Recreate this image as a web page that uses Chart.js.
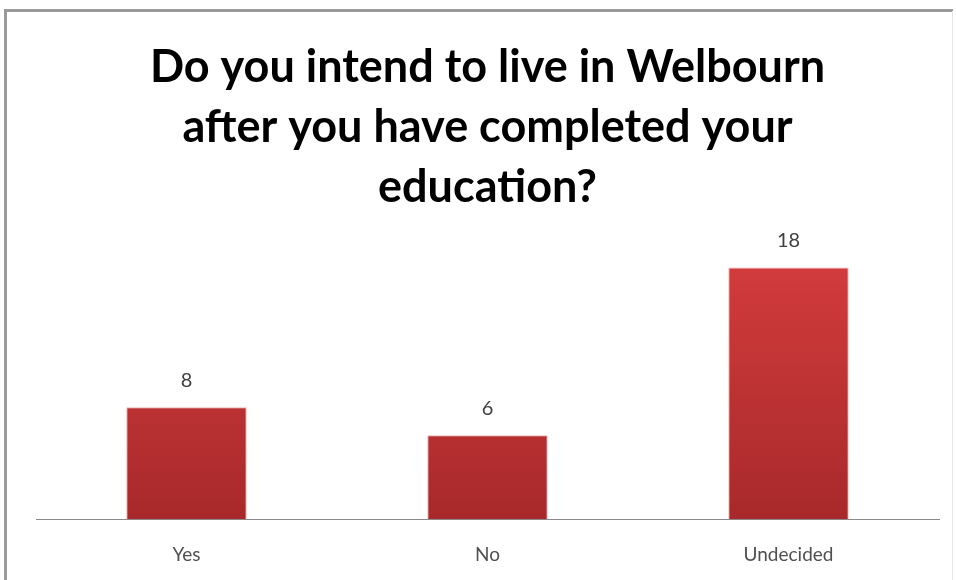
<!DOCTYPE html>
<html>
<head>
<meta charset="utf-8">
<script src="https://cdn.jsdelivr.net/npm/chart.js@4/dist/chart.umd.min.js"></script>
<style>
  html, body { margin: 0; padding: 0; background: #fff; }
  #wrap { width: 956px; height: 580px; }
</style>
</head>
<body>
<div id="wrap"><canvas id="bar-chart" width="956" height="580"></canvas></div>
<script>
// data
var categories = ["Yes", "No", "Undecided"];
var answers = [8, 6, 18];
var chartTitle = ["Do you intend to live in Welbourn", "after you have completed your", "education?"];

// frame round the chart (left + top edge like the original picture)
var framePlugin = {
    id: 'frame',
    beforeDraw: function (chart) {
        var ctx = chart.ctx;
        ctx.save();
        ctx.fillStyle = '#ffffff';
        ctx.fillRect(0, 0, chart.width, chart.height);
        ctx.strokeStyle = '#9a9a9a';
        ctx.lineWidth = 3;
        ctx.beginPath();
        ctx.moveTo(5.5, chart.height);
        ctx.lineTo(5.5, 10.5);
        ctx.lineTo(chart.width - 3, 10.5);
        ctx.stroke();
        ctx.strokeStyle = '#e6e6e6';
        ctx.lineWidth = 1;
        ctx.beginPath();
        ctx.moveTo(chart.width - 3.5, 11);
        ctx.lineTo(chart.width - 3.5, chart.height);
        ctx.stroke();
        ctx.restore();
    }
};

// value labels above each bar
var valuePlugin = {
    id: 'values',
    afterDatasetsDraw: function (chart) {
        var ctx = chart.ctx;
        var meta = chart.getDatasetMeta(0);
        ctx.save();
        ctx.font = '20px Lato, "Open Sans", sans-serif';
        ctx.fillStyle = '#404040';
        ctx.textAlign = 'center';
        ctx.textBaseline = 'middle';
        meta.data.forEach(function (bar, i) {
            ctx.fillText(String(answers[i]), bar.x, bar.y - 27);
        });
        ctx.restore();
    }
};

function barFill(context) {
    var chart = context.chart;
    var area = chart.chartArea;
    if (!area) return '#c0393a';
    var el = context.element;
    var top = el && el.y !== undefined ? el.y : area.top;
    var g = chart.ctx.createLinearGradient(0, top, 0, area.bottom);
    g.addColorStop(0, '#d63d3e');
    g.addColorStop(1, '#a8292b');
    return g;
}

var bar_chart_config = {
    type: 'bar',
    data: {
        labels: categories,
        datasets: [{
            label: 'Answers',
            data: answers,
            backgroundColor: barFill,
            borderColor: 'rgba(235,120,120,0.6)',
            borderWidth: 1,
            barPercentage: 0.4,
            categoryPercentage: 1.0
        }]
    },
    options: {
        responsive: false,
        animation: false,
        layout: {
            padding: { left: 36, right: 17, top: 0, bottom: -10 }
        },
        plugins: {
            legend: { display: false },
            tooltip: { enabled: false },
            title: {
                display: true,
                text: chartTitle,
                color: '#000000',
                font: { family: 'Lato', size: 45, weight: 'bold', lineHeight: 1.33 },
                padding: { top: 38, bottom: 22 }
            }
        },
        scales: {
            x: {
                grid: { display: false, drawTicks: false },
                border: { display: true, color: '#8a8a8a', width: 1 },
                ticks: {
                    color: '#505050',
                    padding: 24,
                    font: { family: 'Lato', size: 19 }
                }
            },
            y: {
                display: false,
                min: 0,
                max: 20
            }
        }
    },
    plugins: [framePlugin, valuePlugin]
};

var bar_chart_ctx = document.getElementById("bar-chart").getContext("2d");
new Chart(bar_chart_ctx, bar_chart_config);
</script>
</body>
</html>
